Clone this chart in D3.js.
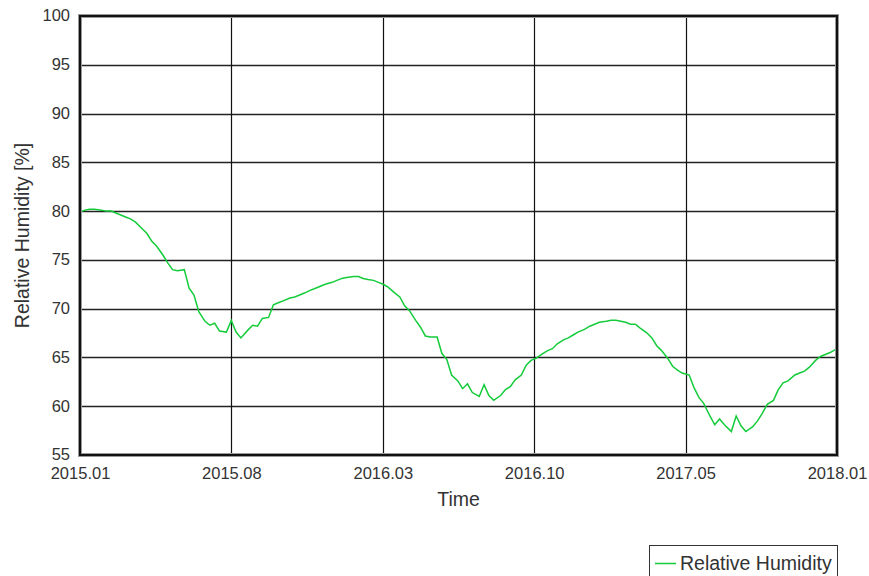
<!DOCTYPE html>
<html>
<head>
<meta charset="utf-8">
<script src="https://cdn.jsdelivr.net/npm/d3@7"></script>
<style>
  body { margin: 0; background: #fff; }
  svg { font-family: "Liberation Sans", Arial, sans-serif; }
</style>
</head>
<body>
<div id="chart"></div>
<script>
// sample dates (1st, 8th, 15th, 22nd of each month)
var dates = [
  "2015-01-01","2015-01-08","2015-01-15","2015-01-22","2015-02-01","2015-02-08","2015-02-15","2015-02-22",
  "2015-03-01","2015-03-08","2015-03-15","2015-03-22","2015-04-01","2015-04-08","2015-04-15","2015-04-22",
  "2015-05-01","2015-05-08","2015-05-15","2015-05-22","2015-06-01","2015-06-08","2015-06-15","2015-06-22",
  "2015-07-01","2015-07-08","2015-07-15","2015-07-22","2015-08-01","2015-08-08","2015-08-15","2015-08-22",
  "2015-09-01","2015-09-08","2015-09-15","2015-09-22","2015-10-01","2015-10-08","2015-10-15","2015-10-22",
  "2015-11-01","2015-11-08","2015-11-15","2015-11-22","2015-12-01","2015-12-08","2015-12-15","2015-12-22",
  "2016-01-01","2016-01-08","2016-01-15","2016-01-22","2016-02-01","2016-02-08","2016-02-15","2016-02-22",
  "2016-03-01","2016-03-08","2016-03-15","2016-03-22","2016-04-01","2016-04-08","2016-04-15","2016-04-22",
  "2016-05-01","2016-05-08","2016-05-15","2016-05-22","2016-06-01","2016-06-08","2016-06-15","2016-06-22",
  "2016-07-01","2016-07-08","2016-07-15","2016-07-22","2016-08-01","2016-08-08","2016-08-15","2016-08-22",
  "2016-09-01","2016-09-08","2016-09-15","2016-09-22","2016-10-01","2016-10-08","2016-10-15","2016-10-22",
  "2016-11-01","2016-11-08","2016-11-15","2016-11-22","2016-12-01","2016-12-08","2016-12-15","2016-12-22",
  "2017-01-01","2017-01-08","2017-01-15","2017-01-22","2017-02-01","2017-02-08","2017-02-15","2017-02-22",
  "2017-03-01","2017-03-08","2017-03-15","2017-03-22","2017-04-01","2017-04-08","2017-04-15","2017-04-22",
  "2017-05-01","2017-05-08","2017-05-15","2017-05-22","2017-06-01","2017-06-08","2017-06-15","2017-06-22",
  "2017-07-01","2017-07-08","2017-07-15","2017-07-22","2017-08-01","2017-08-08","2017-08-15","2017-08-22",
  "2017-09-01","2017-09-08","2017-09-15","2017-09-22","2017-10-01","2017-10-08","2017-10-15","2017-10-22",
  "2017-11-01","2017-11-08","2017-11-15","2017-11-22","2017-12-01","2017-12-08","2017-12-15","2017-12-22",
  "2018-01-01"
];

var humidity = [
  79.9, 80.1, 80.2, 80.2, 80.1, 80.0, 80.0, 79.8,
  79.6, 79.4, 79.2, 78.9, 78.2, 77.7, 76.9, 76.4,
  75.5, 74.7, 74.0, 73.9, 74.0, 72.1, 71.4, 69.7,
  68.7, 68.3, 68.5, 67.7, 67.6, 68.8, 67.6, 67.0,
  67.8, 68.3, 68.2, 69.0, 69.1, 70.4, 70.6, 70.8,
  71.1, 71.2, 71.4, 71.6, 71.9, 72.1, 72.3, 72.5,
  72.7, 72.9, 73.1, 73.2, 73.3, 73.3, 73.1, 73.0,
  72.9, 72.7, 72.5, 72.2, 71.6, 71.2, 70.3, 69.8,
  68.8, 68.1, 67.2, 67.1, 67.1, 65.4, 64.8, 63.2,
  62.6, 61.8, 62.3, 61.4, 61.0, 62.2, 61.1, 60.6,
  61.1, 61.7, 62.0, 62.7, 63.2, 64.2, 64.7, 64.9,
  65.4, 65.7, 65.9, 66.4, 66.8, 67.0, 67.3, 67.6,
  67.9, 68.2, 68.4, 68.6, 68.7, 68.8, 68.8, 68.7,
  68.6, 68.4, 68.4, 68.0, 67.5, 67.0, 66.2, 65.7,
  64.9, 64.1, 63.7, 63.4, 63.2, 61.9, 60.9, 60.3,
  59.0, 58.1, 58.7, 58.1, 57.4, 59.0, 58.0, 57.4,
  57.9, 58.5, 59.3, 60.2, 60.6, 61.7, 62.4, 62.6,
  63.2, 63.4, 63.6, 64.0, 64.7, 65.1, 65.3, 65.5,
  65.9
];

var yTicks = [55, 60, 65, 70, 75, 80, 85, 90, 95, 100];
var xTickLabels = ["2015.01", "2015.08", "2016.03", "2016.10", "2017.05", "2018.01"];
var seriesName = "Relative Humidity";

var W = 869, H = 576;
var margin = { left: 80, right: 32, top: 16, bottom: 121 };
var width = W - margin.left - margin.right;
var height = H - margin.top - margin.bottom;

var parse = d3.timeParse("%Y-%m-%d");
var data = dates.map(function (d, i) { return { date: parse(d), value: humidity[i] }; });

var svg = d3.select("#chart").append("svg")
    .attr("width", W)
    .attr("height", H);

var g = svg.append("g")
    .attr("transform", "translate(" + margin.left + "," + margin.top + ")");

var x = d3.scaleTime()
    .domain([parse("2015-01-01"), parse("2018-01-01")])
    .range([0, width]);

var y = d3.scaleLinear()
    .domain([55, 100])
    .range([height, 0]);

// x ticks split the range into equal parts
var t0 = x.domain()[0].getTime(), t1 = x.domain()[1].getTime();
var xTicks = xTickLabels.map(function (l, i) {
    return new Date(t0 + (t1 - t0) * i / (xTickLabels.length - 1));
});

// grid
g.append("g")
    .selectAll("line")
    .data(yTicks)
    .enter().append("line")
    .attr("x1", 0).attr("x2", width)
    .attr("y1", function (d) { return Math.round(y(d)) + 0.5; })
    .attr("y2", function (d) { return Math.round(y(d)) + 0.5; })
    .attr("stroke", "#222")
    .attr("stroke-width", 1.3);

g.append("g")
    .selectAll("line")
    .data(xTicks)
    .enter().append("line")
    .attr("x1", function (d) { return Math.round(x(d)) + 0.5; })
    .attr("x2", function (d) { return Math.round(x(d)) + 0.5; })
    .attr("y1", 0).attr("y2", height)
    .attr("stroke", "#111")
    .attr("stroke-width", 1.2);

// axes (labels only)
var yAxis = d3.axisLeft(y).tickValues(yTicks).tickSize(0).tickPadding(10);
var yg = g.append("g").call(yAxis);
yg.select(".domain").remove();
yg.selectAll("text").style("font-size", "16.5px").attr("fill", "#333")
    .attr("dy", "0.3em");

var xAxis = d3.axisBottom(x).tickValues(xTicks).tickSize(0).tickPadding(12)
    .tickFormat(function (d, i) { return xTickLabels[i]; });
var xg = g.append("g").attr("transform", "translate(0," + height + ")").call(xAxis);
xg.select(".domain").remove();
xg.selectAll("text").style("font-size", "16.5px").attr("fill", "#333");

// line
var line = d3.line()
    .x(function (d) { return x(d.date); })
    .y(function (d) { return y(d.value); });

g.append("path")
    .datum(data)
    .attr("fill", "none")
    .attr("stroke", "#14cc3a")
    .attr("stroke-width", 1.5)
    .attr("d", line);

// frame
g.append("rect")
    .attr("x", 0).attr("y", 0)
    .attr("width", width).attr("height", height)
    .attr("fill", "none")
    .attr("stroke", "#999")
    .attr("stroke-width", 4);
g.append("rect")
    .attr("x", 0).attr("y", 0)
    .attr("width", width).attr("height", height)
    .attr("fill", "none")
    .attr("stroke", "#111")
    .attr("stroke-width", 2);

// axis titles
g.append("text")
    .attr("x", width / 2)
    .attr("y", height + 51)
    .attr("text-anchor", "middle")
    .style("font-size", "19.5px")
    .attr("fill", "#333")
    .text("Time");

g.append("text")
    .attr("transform", "rotate(-90)")
    .attr("x", -height / 2)
    .attr("y", -51)
    .attr("text-anchor", "middle")
    .style("font-size", "19.5px")
    .attr("fill", "#333")
    .text("Relative Humidity [%]");

// legend
var lg = svg.append("g").attr("transform", "translate(649,545)");
lg.append("rect")
    .attr("x", 0.5).attr("y", 0.5)
    .attr("width", 188).attr("height", 40)
    .attr("fill", "#fff")
    .attr("stroke", "#333");
lg.append("line")
    .attr("x1", 6).attr("x2", 27)
    .attr("y1", 18.5).attr("y2", 18.5)
    .attr("stroke", "#14cc3a")
    .attr("stroke-width", 1.5);
lg.append("text")
    .attr("x", 31).attr("y", 25)
    .style("font-size", "19.5px")
    .attr("fill", "#333")
    .text(seriesName);
</script>
</body>
</html>
